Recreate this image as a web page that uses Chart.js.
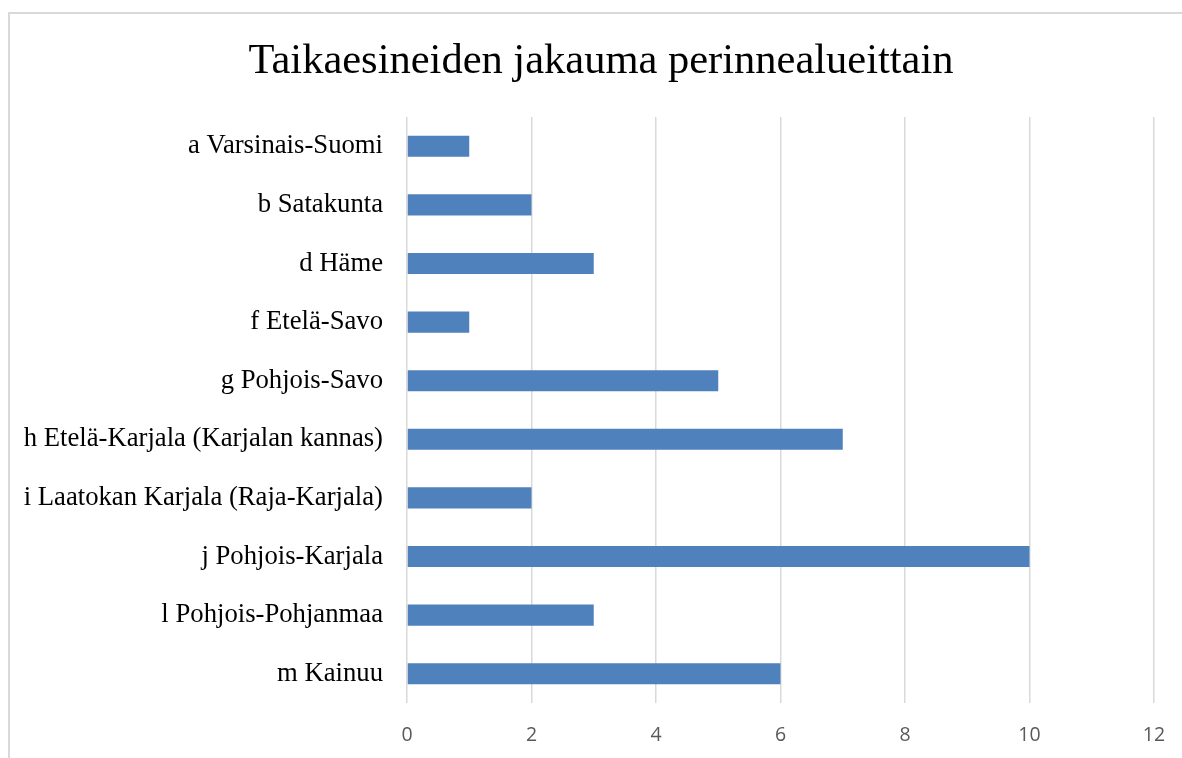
<!DOCTYPE html>
<html>
<head>
<meta charset="utf-8">
<script src="https://cdn.jsdelivr.net/npm/chart.js@4/dist/chart.umd.min.js"></script>
<style>
  html, body { margin: 0; padding: 0; background: #fff; overflow: hidden; }
  #frame {
    position: absolute; left: 8px; top: 12px; width: 1300px; height: 900px;
    border: 2px solid #d9d9d9; box-sizing: border-box;
  }
  #wrap { position: absolute; left: 0; top: 0; width: 1182px; height: 758px; }
</style>
</head>
<body>
<div id="frame"></div>
<div id="wrap"><canvas id="taikaChart" width="1182" height="758"></canvas></div>
<script>
// Alueet ja taikaesineiden määrät
const regions = [
    'a Varsinais-Suomi',
    'b Satakunta',
    'd Häme',
    'f Etelä-Savo',
    'g Pohjois-Savo',
    'h Etelä-Karjala (Karjalan kannas)',
    'i Laatokan Karjala (Raja-Karjala)',
    'j Pohjois-Karjala',
    'l Pohjois-Pohjanmaa',
    'm Kainuu'
];
const counts = [1, 2, 3, 1, 5, 7, 2, 10, 3, 6];
const xTicks = [0, 2, 4, 6, 8, 10, 12];

const ctx = document.getElementById('taikaChart').getContext('2d');
window.taikaChart = new Chart(ctx, {
    type: 'bar',
    data: {
        labels: regions,
        datasets: [{
            label: 'Taikaesineet',
            data: counts,
            backgroundColor: '#4f81bd',
            borderWidth: 0,
            categoryPercentage: 1,
            barPercentage: 0.36
        }]
    },
    options: {
        indexAxis: 'y',
        responsive: false,
        animation: false,
        layout: { padding: { left: 20, right: 0, top: 0, bottom: 0 } },
        plugins: {
            legend: { display: false },
            tooltip: { enabled: false },
            title: {
                display: true,
                text: 'Taikaesineiden jakauma perinnealueittain',
                color: '#000',
                font: { family: '"Liberation Serif", "Times New Roman", serif', size: 42.5, weight: 'normal' },
                padding: { top: 36, bottom: 30 }
            }
        },
        scales: {
            x: {
                min: 0,
                max: 12,
                afterBuildTicks: (axis) => { axis.ticks = xTicks.map(v => ({ value: v })); },
                afterFit: (axis) => { axis.height = 55; },
                grid: { color: '#d9d9d9', lineWidth: 1.5, drawTicks: true, tickLength: 17, tickColor: 'rgba(0,0,0,0)' },
                border: { display: false },
                ticks: {
                    color: '#595959',
                    padding: 4,
                    font: { family: '"Open Sans", "Liberation Sans", sans-serif', size: 19.5 }
                }
            },
            y: {
                afterFit: (axis) => { axis.width = 387; },
                grid: { display: false, drawTicks: false },
                border: { display: false },
                ticks: {
                    color: '#000',
                    padding: 24,
                    font: { family: '"Liberation Serif", "Times New Roman", serif', size: 26.7 }
                }
            },
            // empty right margin so the plot ends before the frame edge
            rightMargin: {
                type: 'linear',
                position: 'right',
                afterFit: (axis) => { axis.width = 28; },
                grid: { display: false, drawTicks: false },
                border: { display: false },
                ticks: { display: false }
            }
        }
    }
});
</script>
</body>
</html>
